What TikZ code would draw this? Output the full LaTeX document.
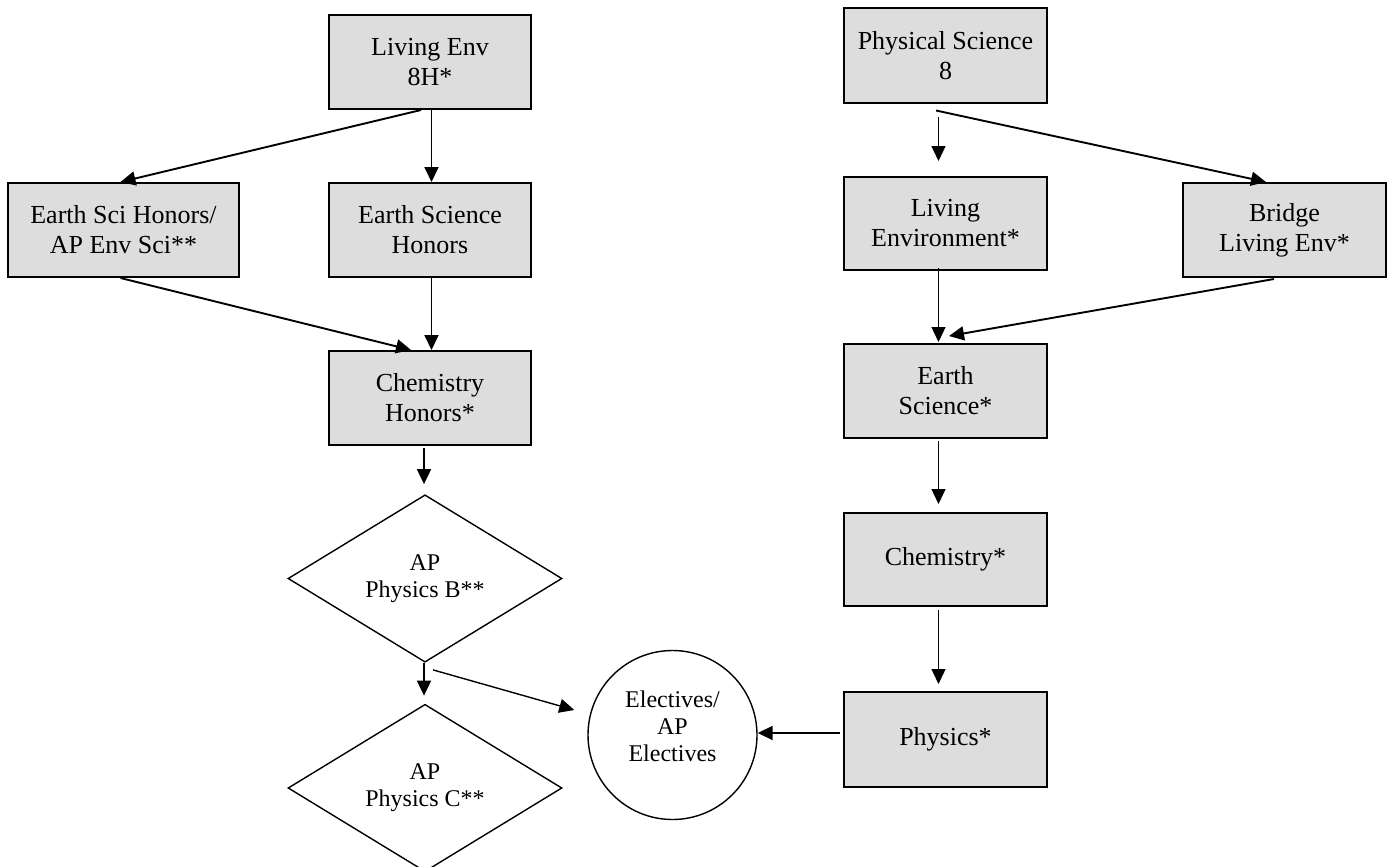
\documentclass[tikz,border=0pt]{standalone}
\usepackage{fontspec}
\setmainfont{Liberation Serif}
\usetikzlibrary{arrows.meta,shapes.geometric}
\definecolor{boxgray}{RGB}{221,221,221}
\tikzset{
  crsbox/.style={rectangle, draw=black, line width=2pt, fill=boxgray, inner sep=0pt,
    minimum height=94pt, align=center, font=\fontsize{26}{30}\selectfont},
  apdiam/.style={diamond, draw=black, line width=1.4pt, fill=white, inner sep=0pt,
    minimum width=274pt, minimum height=154pt, align=center, font=\fontsize{24}{27}\selectfont},
  elecirc/.style={circle, draw=black, line width=1.4pt, fill=white, inner sep=0pt, minimum size=169pt},
  eltext/.style={align=center, font=\fontsize{24}{27}\selectfont, inner sep=0pt},
  flow/.style={-{Triangle[length=15pt,width=14pt]}, line width=1.9pt},
  thinflow/.style={-{Triangle[length=15pt,width=14pt]}, line width=1.4pt}
}
\begin{document}
\begin{tikzpicture}[x=1pt,y=-1pt]
\useasboundingbox (0,0) rectangle (1390,867);
% left column
\node[crsbox, minimum width=202pt] (le8h) at (430,62) {Living Env\\8H*};
\node[crsbox, minimum width=231pt] (eshap) at (123.5,230) {Earth Sci Honors/\\AP Env Sci**};
\node[crsbox, minimum width=202pt] (esh) at (430,230) {Earth Science\\Honors};
\node[crsbox, minimum width=202pt] (chemh) at (430,398) {Chemistry\\Honors*};
\node[apdiam] (apb) at (425,578.5) {AP\\Physics B**};
\node[apdiam] (apc) at (425,788) {AP\\Physics C**};
\node[elecirc] (elec) at (672.5,735) {};
\node[eltext] (electxt) at (672.5,726) {Electives/\\AP\\Electives};
% right column
\node[crsbox, minimum width=203pt] (ps8) at (945.5,55.5) {Physical Science\\8};
\node[crsbox, minimum width=203pt, minimum height=93pt] (le) at (945.5,223.5) {Living\\Environment*};
\node[crsbox, minimum width=203pt] (bridge) at (1284.5,230) {Bridge\\Living Env*};
\node[crsbox, minimum width=203pt] (es) at (945.5,391) {Earth\\Science*};
\node[crsbox, minimum width=203pt, minimum height=93pt] (chem) at (945.5,559.5) {Chemistry*};
\node[crsbox, minimum width=203pt, minimum height=95pt] (phys) at (945.5,739.5) {Physics*};
% left arrows
\draw[flow] ([xshift=-9pt]le8h.south) -- ([xshift=-3pt]eshap.north);
\draw[flow] ([xshift=1.5pt]le8h.south) -- ([xshift=1.5pt]esh.north);
\draw[flow] ([xshift=-3pt]eshap.south) -- ([xshift=-19pt]chemh.north);
\draw[flow] ([xshift=1.5pt]esh.south) -- ([xshift=1.5pt]chemh.north);
\draw[flow] ([xshift=-6pt,yshift=-2pt]chemh.south) -- ([xshift=-1pt,yshift=10pt]apb.north);
\draw[flow] ([xshift=-1pt]apb.south) -- ([xshift=-1pt,yshift=8pt]apc.north);
\draw[thinflow] ([xshift=8pt,yshift=-7pt]apb.south) -- ([xshift=-13pt,yshift=25pt]elec.west);
\draw[flow] ([xshift=-3pt,yshift=6.5pt]phys.west) -- ([yshift=2pt]elec.east);
% right arrows
\draw[thinflow] ([xshift=-7pt,yshift=-13pt]ps8.south) -- ([xshift=-7pt,yshift=15pt]le.north);
\draw[flow] ([xshift=-9.5pt,yshift=-7pt]ps8.south) -- ([xshift=-18.5pt]bridge.north);
\draw[thinflow] ([xshift=-7pt,yshift=3pt]le.south) -- ([xshift=-7pt,yshift=1pt]es.north);
\draw[flow] ([xshift=-10.5pt,yshift=-1pt]bridge.south) -- ([xshift=3.5pt,yshift=7pt]es.north);
\draw[thinflow] ([xshift=-7pt,yshift=-2pt]es.south) -- ([xshift=-7pt,yshift=8pt]chem.north);
\draw[thinflow] ([xshift=-7pt,yshift=-3pt]chem.south) -- ([xshift=-7pt,yshift=7pt]phys.north);
\end{tikzpicture}
\end{document}
